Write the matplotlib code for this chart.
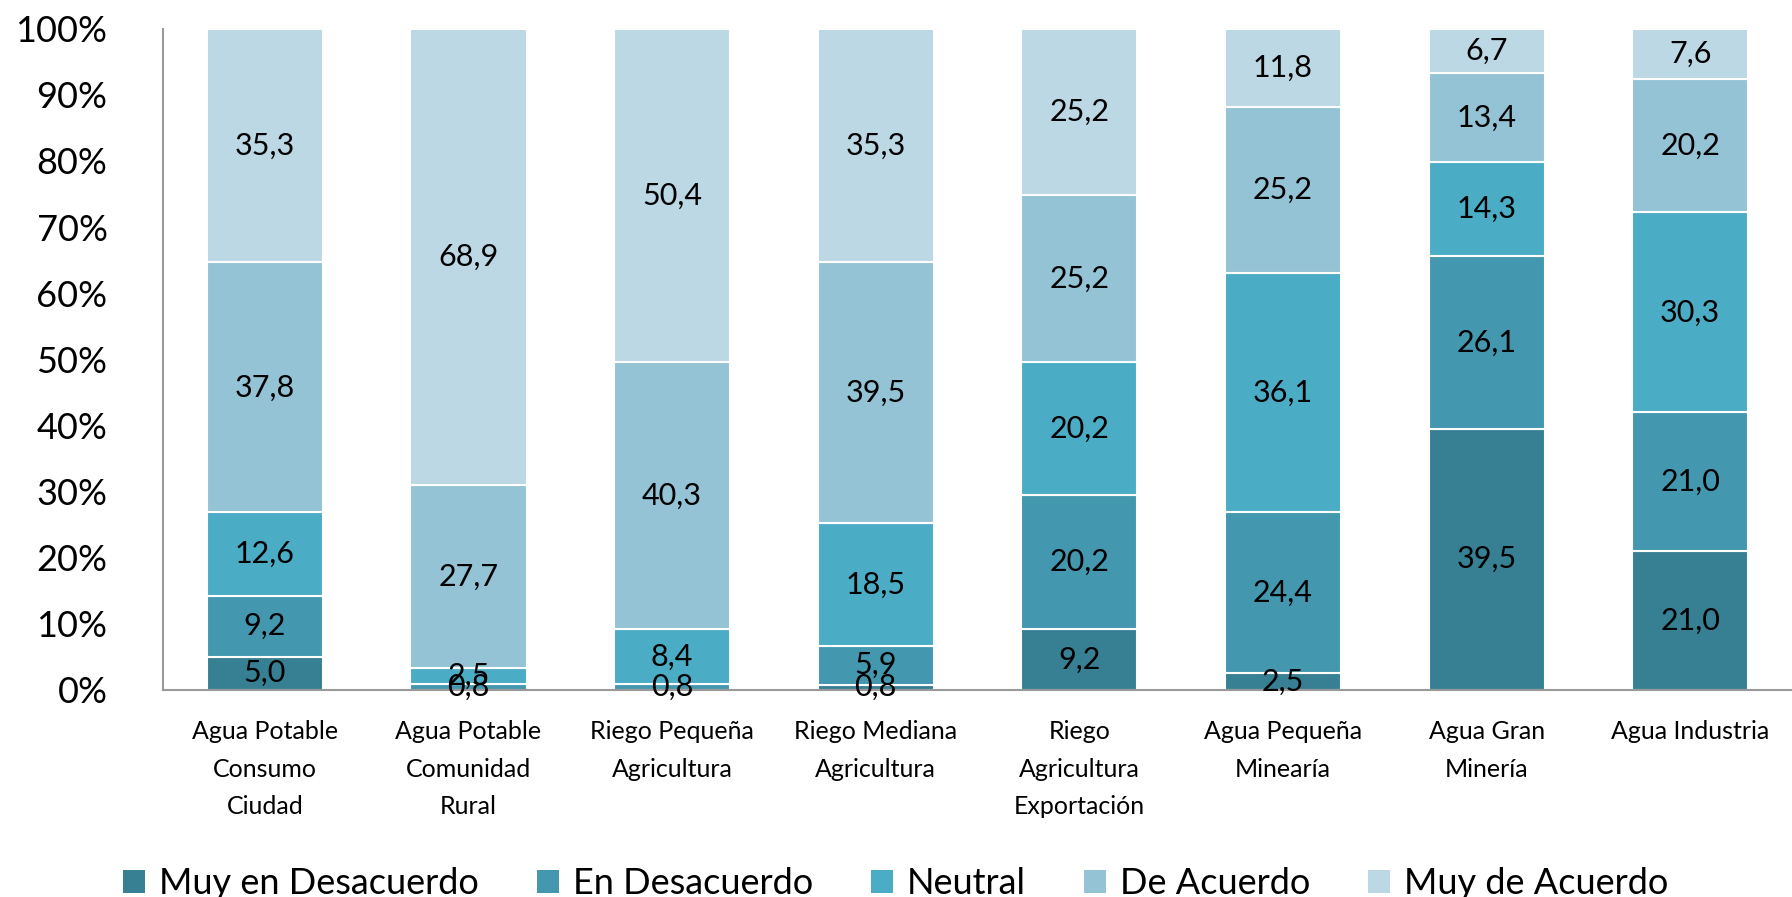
import matplotlib.pyplot as plt
import numpy as np

categories = ["Agua Potable\nConsumo\nCiudad", "Agua Potable\nComunidad\nRural",
              "Riego Pequeña\nAgricultura", "Riego Mediana\nAgricultura",
              "Riego\nAgricultura\nExportación", "Agua Pequeña\nMinearía",
              "Agua Gran\nMinería", "Agua Industria"]
series_names = ["Muy en Desacuerdo", "En Desacuerdo", "Neutral", "De Acuerdo", "Muy de Acuerdo"]
muy_desacuerdo = [5.0, 0.0, 0.0, 0.8, 9.2, 2.5, 39.5, 21.0]
desacuerdo = [9.2, 0.8, 0.8, 5.9, 20.2, 24.4, 26.1, 21.0]
neutral = [12.6, 2.5, 8.4, 18.5, 20.2, 36.1, 14.3, 30.3]
de_acuerdo = [37.8, 27.7, 40.3, 39.5, 25.2, 25.2, 13.4, 20.2]
muy_acuerdo = [35.3, 68.9, 50.4, 35.3, 25.2, 11.8, 6.7, 7.6]

colors = ["#377F93", "#4398B0", "#4BACC6", "#93C3D5", "#BCD8E4"]

plt.rcParams['font.family'] = ['Lato', 'DejaVu Sans']

data = np.array([muy_desacuerdo, desacuerdo, neutral, de_acuerdo, muy_acuerdo])
pct = data / data.sum(axis=0) * 100

fig = plt.figure(figsize=(17.92, 8.97), dpi=100)
ax = fig.add_axes([0.091, 0.231, 0.909, 0.737])
x = np.arange(len(categories))
bottom = np.zeros(len(categories))
for i, name in enumerate(series_names):
    ax.bar(x, pct[i], 0.57, bottom=bottom, color=colors[i], edgecolor="white",
           linewidth=1.5, label=name)
    for j in range(len(categories)):
        if data[i, j] > 0:
            ax.text(x[j], bottom[j] + pct[i, j] / 2, f"{data[i, j]:.1f}".replace(".", ","),
                    ha="center", va="center", fontsize=22)
    bottom += pct[i]

ax.set_xlim(-0.5, 7.5)
ax.set_ylim(0, 100)
ax.set_yticks(np.arange(0, 101, 10))
ax.set_yticklabels([f"{v}%" for v in range(0, 101, 10)], fontsize=26)
ax.set_xticks(x)
ax.set_xticklabels(categories, fontsize=18, linespacing=1.75, va="top")
ax.tick_params(axis="both", length=0)
ax.tick_params(axis="y", pad=40)
ax.tick_params(axis="x", pad=22)
for s in ["top", "right"]:
    ax.spines[s].set_visible(False)
for s in ["left", "bottom"]:
    ax.spines[s].set_color("#999999")
    ax.spines[s].set_linewidth(1.5)

leg = fig.legend(loc="lower center", ncol=5, frameon=False, fontsize=26,
                 bbox_to_anchor=(0.5, -0.04), handlelength=0.6, handleheight=0.6,
                 handletextpad=0.4, columnspacing=1.6)
for h in leg.legend_handles:
    h.set_edgecolor("none")

fig.savefig("out.png", dpi=100)
